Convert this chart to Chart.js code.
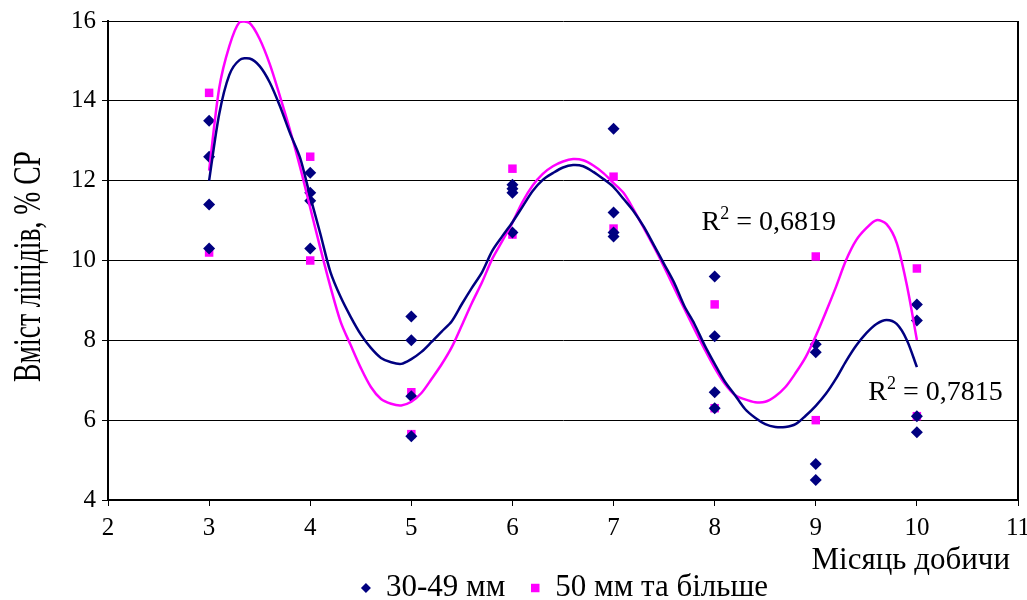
<!DOCTYPE html>
<html>
<head>
<meta charset="utf-8">
<script src="https://cdn.jsdelivr.net/npm/chart.js@4/dist/chart.umd.min.js"></script>
<style>
    html, body { margin: 0; padding: 0; background: #fff; }
    #wrap { width: 1027px; height: 600px; }
</style>
</head>
<body>
<div id="wrap"><canvas id="lipidChart" width="1027" height="600"></canvas></div>
<script>
// measured points, 30-49 mm
const smallMonths = [3, 3, 3, 3, 4, 4, 4, 4, 5, 5, 5, 5, 6, 6, 6, 6, 7, 7, 7, 7, 8, 8, 8, 8, 9, 9, 9, 9, 10, 10, 10, 10];
const smallValues = [13.5, 12.6, 11.4, 10.3, 12.2, 11.7, 11.5, 10.3, 8.6, 8.0, 6.6, 5.6, 11.9, 11.8, 11.7, 10.7,
    13.3, 11.2, 10.7, 10.6, 9.6, 8.1, 6.7, 6.3, 7.9, 7.7, 4.9, 4.5, 8.9, 8.5, 6.1, 5.7];

// measured points, 50 mm and more
const bigMonths = [3, 3, 4, 4, 5, 5, 6, 6, 7, 7, 8, 8, 9, 9, 10, 10];
const bigValues = [14.2, 10.2, 12.6, 10.0, 6.7, 5.65, 12.3, 10.65, 12.1, 10.8, 8.9, 6.3, 10.1, 6.0, 9.8, 6.1];

// trend curves
const trendX = [3.0, 3.1, 3.2, 3.3, 3.4, 3.5, 3.6, 3.7, 3.8, 3.9, 4.0, 4.1, 4.2, 4.3, 4.4, 4.5, 4.6, 4.7, 4.8, 4.9,
    5.0, 5.1, 5.2, 5.3, 5.4, 5.5, 5.6, 5.7, 5.8, 5.9, 6.0, 6.1, 6.2, 6.3, 6.4, 6.5, 6.6, 6.7, 6.8, 6.9,
    7.0, 7.1, 7.2, 7.3, 7.4, 7.5, 7.6, 7.7, 7.8, 7.9, 8.0, 8.1, 8.2, 8.3, 8.4, 8.5, 8.6, 8.7, 8.8, 8.9,
    9.0, 9.1, 9.2, 9.3, 9.4, 9.5, 9.6, 9.7, 9.8, 9.9, 10.0];
const smallTrend = [12.0, 13.67, 14.65, 15.02, 15.06, 14.87, 14.46, 13.87, 13.19, 12.57, 11.6, 10.67, 9.71, 9.09, 8.59, 8.15, 7.81, 7.56, 7.45, 7.41,
    7.53, 7.71, 7.96, 8.22, 8.48, 8.91, 9.32, 9.71, 10.24, 10.61, 10.96, 11.35, 11.74, 12.02, 12.19, 12.33, 12.39, 12.36, 12.22, 12.04,
    11.84, 11.54, 11.23, 10.84, 10.38, 9.91, 9.44, 8.86, 8.41, 7.88, 7.41, 6.97, 6.63, 6.28, 6.06, 5.9, 5.83, 5.83, 5.9, 6.11,
    6.36, 6.66, 7.04, 7.48, 7.87, 8.18, 8.41, 8.51, 8.41, 8.01, 7.33];
const bigTrend = [12.25, 14.32, 15.37, 15.97, 15.95, 15.55, 14.92, 14.12, 13.27, 12.34, 11.32, 10.31, 9.34, 8.47, 7.88, 7.31, 6.83, 6.53, 6.41, 6.37,
    6.46, 6.68, 7.03, 7.4, 7.83, 8.38, 8.94, 9.46, 10.04, 10.49, 10.95, 11.47, 11.88, 12.17, 12.36, 12.48, 12.54, 12.51, 12.38, 12.19,
    11.94, 11.69, 11.27, 10.81, 10.34, 9.84, 9.31, 8.79, 8.28, 7.78, 7.31, 6.91, 6.63, 6.52, 6.45, 6.46, 6.6, 6.83, 7.18, 7.58,
    8.11, 8.71, 9.34, 10.01, 10.51, 10.81, 11.01, 10.91, 10.44, 9.39, 8.01];

const xTicks = [2, 3, 4, 5, 6, 7, 8, 9, 10, 11];
const yTicks = [4, 6, 8, 10, 12, 14, 16];

// R^2 notes
const rTexts = ['0,6819', '0,7815'];
const rAtX = [7.87, 9.52];
const rAtY = [10.76, 6.51];

const NAVY = '#000080';
const PINK = '#FF00FF';
const SERIF = "'Liberation Serif', 'Times New Roman', serif";

function toPoints(xs, ys) {
    return xs.map((x, i) => ({ x: x, y: ys[i] }));
}

// frame edge, axis titles, R^2 notes and the legend row
const decorPlugin = {
    id: 'decor',
    afterDraw(chart) {
        const ctx = chart.ctx;
        const area = chart.chartArea;
        const xs = chart.scales.x;
        const ys = chart.scales.y;
        ctx.save();
        ctx.strokeStyle = '#000';
        ctx.lineWidth = 2;
        ctx.beginPath();
        ctx.moveTo(area.right, area.top);
        ctx.lineTo(area.right, area.bottom);
        ctx.stroke();

        ctx.fillStyle = '#000';

        // y title, narrow letters
        ctx.save();
        ctx.translate(29, (area.top + area.bottom) / 2 + 6);
        ctx.rotate(-Math.PI / 2);
        ctx.scale(0.69, 1);
        ctx.font = '40px ' + SERIF;
        ctx.textAlign = 'center';
        ctx.textBaseline = 'middle';
        ctx.fillText('Вміст ліпідів, % СР', 0, 0);
        ctx.restore();

        // x title
        ctx.font = '31px ' + SERIF;
        ctx.textAlign = 'right';
        ctx.textBaseline = 'middle';
        ctx.fillText('Місяць добичи', area.right - 8, area.bottom + 61);

        // R^2
        ctx.textBaseline = 'alphabetic';
        ctx.textAlign = 'left';
        rTexts.forEach((t, i) => {
            let px = xs.getPixelForValue(rAtX[i]);
            const py = ys.getPixelForValue(rAtY[i]);
            ctx.font = '28px ' + SERIF;
            ctx.fillText('R', px, py);
            px += ctx.measureText('R').width;
            ctx.font = '18px ' + SERIF;
            ctx.fillText('2', px, py - 11);
            px += ctx.measureText('2').width;
            ctx.font = '28px ' + SERIF;
            ctx.fillText(' = ' + t, px, py);
        });

        // legend
        const items = [
            { text: chart.data.datasets[0].label, style: 'rectRot', color: NAVY, r: 5 },
            { text: chart.data.datasets[1].label, style: 'rect', color: PINK, r: 6 }
        ];
        ctx.font = '31px ' + SERIF;
        const widths = items.map(it => ctx.measureText(it.text).width);
        const total = 26 + widths[0] + 30 + 20 + widths[1];
        let lx = (area.left + area.right) / 2 - total / 2 + 7;
        const ly = 588;
        items.forEach((it, i) => {
            ctx.fillStyle = it.color;
            Chart.helpers.drawPoint(ctx, { pointStyle: it.style, radius: it.r, borderWidth: 0 }, lx, ly);
            ctx.fillStyle = '#000';
            ctx.textAlign = 'left';
            ctx.textBaseline = 'middle';
            ctx.fillText(it.text, lx + 20, ly);
            lx += 20 + widths[i] + 30;
        });
        ctx.restore();
    }
};

const ctx = document.getElementById('lipidChart').getContext('2d');
new Chart(ctx, {
    type: 'scatter',
    data: {
        datasets: [
            {
                label: '30-49 мм',
                data: toPoints(smallMonths, smallValues),
                pointStyle: 'rectRot',
                pointRadius: 6,
                backgroundColor: NAVY,
                borderColor: NAVY,
                borderWidth: 0,
                order: 2
            },
            {
                label: '50 мм та більше',
                data: toPoints(bigMonths, bigValues),
                pointStyle: 'rect',
                pointRadius: 6,
                backgroundColor: PINK,
                borderColor: PINK,
                borderWidth: 0,
                order: 2
            },
            {
                label: 'trend small',
                data: toPoints(trendX, smallTrend),
                showLine: true,
                pointRadius: 0,
                borderColor: NAVY,
                borderWidth: 2.5,
                tension: 0.3,
                order: 0
            },
            {
                label: 'trend big',
                data: toPoints(trendX, bigTrend),
                showLine: true,
                pointRadius: 0,
                borderColor: PINK,
                borderWidth: 2.5,
                tension: 0.3,
                order: 1
            }
        ]
    },
    options: {
        responsive: false,
        animation: false,
        layout: { padding: { top: 21, right: 9, bottom: 0, left: 0 } },
        plugins: {
            tooltip: { enabled: false },
            legend: { display: false }
        },
        scales: {
            x: {
                type: 'linear',
                min: 2,
                max: 11,
                afterBuildTicks: scale => { scale.ticks = xTicks.map(v => ({ value: v })); },
                afterFit: scale => {
                    scale.height = 100;
                    scale.paddingLeft = 0;
                    scale.paddingRight = 0;
                },
                ticks: { color: '#000', padding: 7, maxRotation: 0, font: { family: SERIF, size: 25 } },
                grid: { drawOnChartArea: false, drawTicks: true, tickLength: 6, color: '#000' },
                border: { color: '#000', width: 2 }
            },
            y: {
                type: 'linear',
                min: 4,
                max: 16,
                afterBuildTicks: scale => { scale.ticks = yTicks.map(v => ({ value: v })); },
                afterFit: scale => { scale.width = 108; },
                ticks: { color: '#000', padding: 6, font: { family: SERIF, size: 25 } },
                grid: { color: '#000', lineWidth: 1, tickLength: 6 },
                border: { color: '#000', width: 2 }
            }
        }
    },
    plugins: [decorPlugin]
});
</script>
</body>
</html>
